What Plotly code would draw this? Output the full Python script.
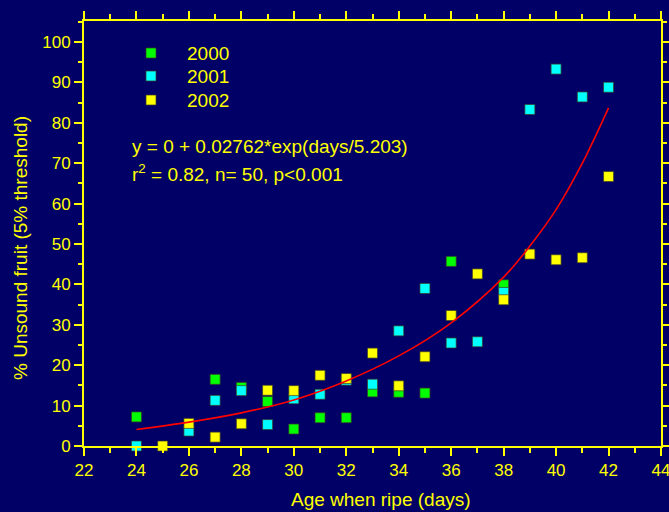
import plotly.graph_objects as go

# ---- data ----
days_2000 = [24, 27, 28, 29, 30, 31, 32, 33, 34, 35, 36, 38]
vals_2000 = [7.2, 16.5, 14.5, 11.0, 4.2, 7.0, 7.0, 13.4, 13.3, 13.1, 45.7, 39.9]

days_2001 = [24, 26, 27, 28, 29, 30, 31, 32, 33, 34, 35, 36, 37, 38, 39, 40, 41, 42]
vals_2001 = [0.0, 3.7, 11.3, 13.7, 5.3, 11.7, 12.8, 16.3, 15.3, 28.5, 39.0, 25.5,
             25.8, 38.0, 83.3, 93.3, 86.4, 88.8]

days_2002 = [25, 26, 27, 28, 29, 30, 31, 32, 33, 34, 35, 36, 37, 38, 39, 40, 41, 42]
vals_2002 = [0.0, 5.6, 2.2, 5.5, 13.8, 13.7, 17.5, 16.7, 23.0, 14.9, 22.1, 32.3,
             42.6, 36.2, 47.5, 46.1, 46.6, 66.7]

# fitted curve as drawn
fit_days = [24, 26, 28, 30, 32, 34, 36, 38, 39, 40, 41, 42]
fit_vals = [4.1, 5.9, 8.2, 11.4, 16.1, 22.3, 30.5, 41.8, 49.5, 58.5, 70.0, 83.7]

series_names = ["2000", "2001", "2002"]
series_colors = ["#00FF00", "#00FFFF", "#FFFF00"]

x_ticks = list(range(22, 45, 2))
y_ticks = list(range(0, 101, 10))

BG = "#000066"
YEL = "#FFFF00"
FONT = "Liberation Sans, Arial, sans-serif"

# plot-area geometry (pixels) used to place the hand-made legend/titles
W, H = 669, 512
ML, MR, MT, MB = 84, 8, 21, 66
PW, PH = W - ML - MR, H - MT - MB

def px_x(px):
    return (px - ML) / PW

def px_y(py):
    return (H - MB - py) / PH

fig = go.Figure()

for x, y, c, n in zip([days_2000, days_2001, days_2002],
                      [vals_2000, vals_2001, vals_2002],
                      series_colors, series_names):
    fig.add_trace(go.Scatter(
        x=x, y=y, mode="markers", name=n, showlegend=False,
        marker=dict(symbol="square", size=10, color=c,
                    line=dict(color="rgba(60,60,40,0.7)", width=1)),
        cliponaxis=False,
    ))

fig.add_trace(go.Scatter(
    x=fit_days, y=fit_vals, mode="lines", showlegend=False,
    line=dict(color="#FF0000", width=1.6, shape="spline", smoothing=1.0),
))

axis_common = dict(
    showgrid=False, zeroline=False, showline=True, linecolor=YEL, linewidth=2,
    ticks="outside", tickcolor=YEL, tickwidth=2, mirror="allticks",
    tickfont=dict(family=FONT, size=17, color=YEL), automargin=False,
    ticklabeloverflow="allow",
)

fig.update_xaxes(
    range=[22, 44], tickvals=x_ticks, ticklen=8,
    minor=dict(dtick=1, tick0=22, ticks="outside", ticklen=5, tickcolor=YEL, tickwidth=2),
    **axis_common,
)
fig.update_yaxes(
    range=[0, 105.2], tickvals=y_ticks, ticklen=8,
    minor=dict(dtick=5, tick0=0, ticks="outside", ticklen=4, tickcolor=YEL, tickwidth=2),
    **axis_common,
)

# axis titles
fig.add_annotation(
    x=px_x(381), y=px_y(499), xref="paper", yref="paper",
    xanchor="center", yanchor="middle", showarrow=False,
    text="Age when ripe (days)", font=dict(family=FONT, size=19, color=YEL),
)
fig.add_annotation(
    x=px_x(20), y=px_y(248), xref="paper", yref="paper",
    xanchor="center", yanchor="middle", showarrow=False, textangle=-90,
    text="% Unsound fruit (5% threshold)", font=dict(family=FONT, size=19, color=YEL),
)

# legend (hand placed)
legend_rows = [53, 76, 100]
for name, color, py in zip(series_names, series_colors, legend_rows):
    fig.add_shape(
        type="rect", xref="paper", yref="paper",
        x0=px_x(146), x1=px_x(156), y0=px_y(py + 5), y1=px_y(py - 5),
        fillcolor=color, line=dict(color="rgba(60,60,40,0.7)", width=1),
    )
    fig.add_annotation(
        x=px_x(185), y=px_y(py), xref="paper", yref="paper",
        xanchor="left", yanchor="middle", showarrow=False,
        text=name, font=dict(family=FONT, size=19, color=YEL),
    )

# fit equation text
fig.add_annotation(
    x=23.77, y=74.1, xref="x", yref="y", xanchor="left", yanchor="middle",
    text="y = 0 + 0.02762*exp(days/5.203)", showarrow=False,
    font=dict(family=FONT, size=19, color=YEL),
)
fig.add_annotation(
    x=23.77, y=67.7, xref="x", yref="y", xanchor="left", yanchor="middle",
    text="r<sup>2</sup> = 0.82, n= 50, p<0.001", showarrow=False,
    font=dict(family=FONT, size=19, color=YEL),
)

fig.update_layout(
    width=W, height=H,
    paper_bgcolor=BG, plot_bgcolor=BG,
    margin=dict(l=ML, r=MR, t=MT, b=MB),
    showlegend=False,
    font=dict(family=FONT, color=YEL),
)

fig.write_html(
    "out.html",
    config={"displayModeBar": False},
    post_script="document.body.style.margin='0';document.body.style.padding='0';",
)
